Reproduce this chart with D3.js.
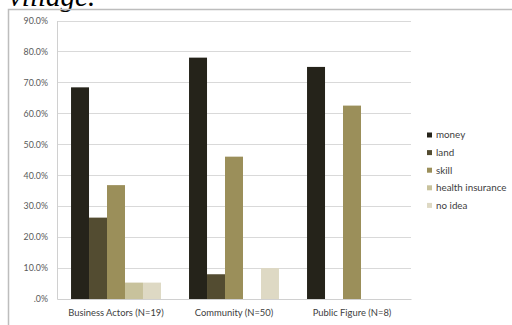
<!DOCTYPE html>
<html>
<head>
<meta charset="utf-8">
<script src="https://cdn.jsdelivr.net/npm/d3@7"></script>
<style>
  body { margin: 0; background: #fff; }
  svg { display: block; }
</style>
</head>
<body>
<svg id="chart"></svg>
<script>
const groups = ['Business Actors (N=19)', 'Community (N=50)', 'Public Figure (N=8)'];
const series = ['money', 'land', 'skill', 'health insurance', 'no idea'];
const money = [68.4, 78.0, 75.0];
const land = [26.3, 8.0, 0];
const skill = [36.8, 46.0, 62.5];
const health = [5.3, 0, 0];
const noIdea = [5.3, 10.0, 0];
const yTicks = [0, 10, 20, 30, 40, 50, 60, 70, 80, 90];
const colors = ['#25231a', '#534c31', '#9b8f5a', '#c8c29c', '#ded9c4'];

const values = [money, land, skill, health, noIdea];

const W = 512, H = 325;
const svg = d3.select('#chart').attr('width', W).attr('height', H);

// caption from the page above the chart, cut off by the crop
svg.append('text')
  .attr('x', 9).attr('y', 6)
  .attr('font-family', 'Liberation Serif')
  .attr('font-style', 'italic')
  .attr('font-size', 29)
  .attr('fill', '#000')
  .text('village.');

// outer chart frame
svg.append('path')
  .attr('d', `M8.5,${H} V9.5 H${W}`)
  .attr('fill', 'none')
  .attr('stroke', '#bdbdbd')
  .attr('stroke-width', 1.5);

const plotLeft = 57, plotRight = 411, plotTop = 20.5, plotBottom = 299;

const x0 = d3.scaleBand().domain(groups).range([plotLeft, plotRight]).padding(0);
const x1 = d3.scaleBand().domain(series).range([0, x0.bandwidth()])
  .paddingInner(0).paddingOuter(0.78);
const y = d3.scaleLinear().domain([0, 90]).range([plotBottom, plotTop]);

// gridlines
svg.append('g')
  .selectAll('line')
  .data(yTicks.filter(d => d > 0))
  .enter().append('line')
  .attr('x1', plotLeft).attr('x2', plotRight)
  .attr('y1', d => Math.round(y(d)) + 0.5)
  .attr('y2', d => Math.round(y(d)) + 0.5)
  .attr('stroke', '#d9d9d9')
  .attr('stroke-width', 1);

// y axis
const yAxis = svg.append('g')
  .attr('transform', `translate(${plotLeft},0)`)
  .call(d3.axisLeft(y).tickValues(yTicks).tickSize(0).tickPadding(9)
    .tickFormat(d => d === 0 ? '.0%' : d.toFixed(1) + '%'));
yAxis.select('.domain').attr('stroke', '#d0d0d0');
yAxis.selectAll('text')
  .attr('font-family', 'Lato').attr('font-size', 8.8).attr('fill', '#595959');

// bars
const g = svg.append('g');
series.forEach((s, si) => {
  g.selectAll('.bar-' + si)
    .data(values[si])
    .enter().append('rect')
    .attr('x', (d, i) => x0(groups[i]) + x1(s))
    .attr('y', d => y(d))
    .attr('width', x1.bandwidth())
    .attr('height', d => y(0) - y(d))
    .attr('fill', colors[si]);
});

// x axis
const xAxis = svg.append('g')
  .attr('transform', `translate(0,${plotBottom})`)
  .call(d3.axisBottom(x0).tickSize(0).tickPadding(10));
xAxis.select('.domain').attr('stroke', '#d0d0d0');
xAxis.selectAll('text')
  .attr('font-family', 'Lato').attr('font-size', 9.4).attr('fill', '#404040');

// legend
const legend = svg.append('g').attr('transform', 'translate(427,135)');
const item = legend.selectAll('g')
  .data(series)
  .enter().append('g')
  .attr('transform', (d, i) => `translate(0,${i * 17.6})`);
item.append('rect')
  .attr('x', 0).attr('y', -2.5)
  .attr('width', 5).attr('height', 5)
  .attr('fill', (d, i) => colors[i]);
item.append('text')
  .attr('x', 9).attr('y', 0).attr('dy', '0.35em')
  .attr('font-family', 'Lato').attr('font-size', 9.8).attr('fill', '#404040')
  .text(d => d);
</script>
</body>
</html>
